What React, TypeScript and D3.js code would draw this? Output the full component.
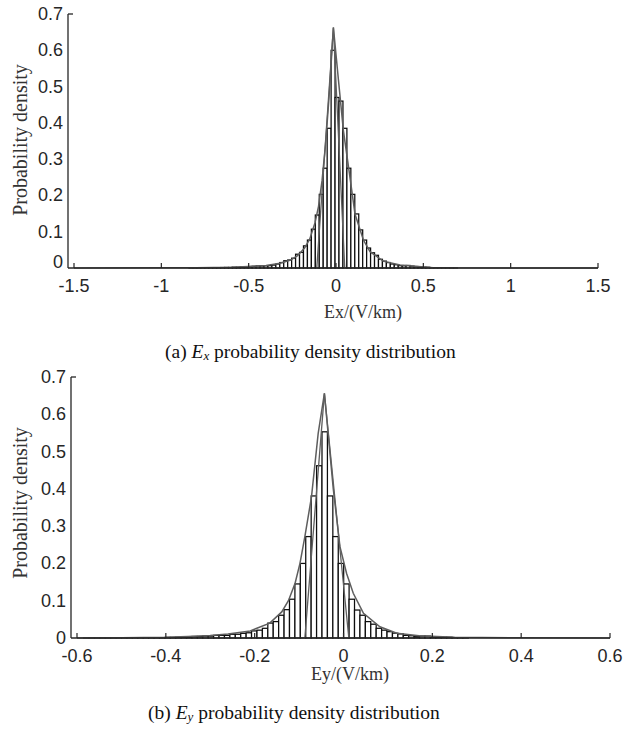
import React from 'react';
import * as d3 from 'd3';

// ---------- data ----------
const yTicks = [0, 0.1, 0.2, 0.3, 0.4, 0.5, 0.6, 0.7];
const exTicks = [-1.5, -1, -0.5, 0, 0.5, 1, 1.5];
const eyTicks = [-0.6, -0.4, -0.2, 0, 0.2, 0.4, 0.6];

// Ex histogram (probability density per bin)
const exBinStart = -0.8416;
const exBinWidth = 0.0226;
const exDensity = [
  0.0005, 0.0005, 0.0005, 0.0008, 0.0008, 0.001, 0.001, 0.001, 0.0012, 0.0015,
  0.0015, 0.002, 0.002, 0.003, 0.0036, 0.004, 0.0045, 0.0055, 0.0055, 0.006,
  0.0065, 0.008, 0.011, 0.015, 0.02, 0.022, 0.027, 0.038, 0.043, 0.061,
  0.077, 0.107, 0.146, 0.203, 0.275, 0.385,
  0.6,
  0.47, 0.46, 0.385, 0.275, 0.203, 0.149, 0.105, 0.077, 0.055, 0.042,
  0.035, 0.024, 0.019, 0.015, 0.011, 0.009, 0.0065, 0.006, 0.007, 0.005,
  0.004, 0.003, 0.002, 0.002, 0.001, 0.001, 0.001, 0.0008, 0.0008, 0.0005, 0.0005,
];
const exFit: [number, number][] = [
  [-1.5, 0.0001], [-1.0, 0.0004], [-0.8, 0.0008], [-0.6, 0.002], [-0.5, 0.004],
  [-0.4, 0.007], [-0.32, 0.013], [-0.26, 0.022], [-0.22, 0.034], [-0.18, 0.055],
  [-0.15, 0.08], [-0.12, 0.125], [-0.1, 0.17], [-0.08, 0.24], [-0.06, 0.34],
  [-0.04, 0.47], [-0.015, 0.663], [0.014, 0.518], [0.042, 0.38], [0.077, 0.26],
  [0.109, 0.148], [0.157, 0.077], [0.195, 0.045], [0.27, 0.019], [0.367, 0.008],
  [0.556, 0.001], [1.0, 0.0002], [1.5, 0.0001],
];
const exSpike: [number, number][] = [[-0.11, 0], [-0.015, 0.663], [0.05, 0]];

// Ey histogram
const eyBinStart = -0.5852;
const eyBinWidth = 0.0122;
const eyDensity = [
  0.0002, 0.0002, 0.0003, 0.0003, 0.0003, 0.0004, 0.0004, 0.0005, 0.0005, 0.0005,
  0.0008, 0.0008, 0.001, 0.001, 0.001, 0.0015, 0.0015, 0.002, 0.002, 0.003,
  0.004, 0.004, 0.005, 0.005, 0.007, 0.007, 0.007, 0.01, 0.01, 0.0125,
  0.014, 0.019, 0.021, 0.026, 0.04, 0.044, 0.061, 0.076, 0.104, 0.145,
  0.2, 0.272, 0.381, 0.462,
  0.553,
  0.381, 0.272, 0.2, 0.145, 0.104, 0.075, 0.061, 0.044, 0.037, 0.026,
  0.021, 0.017, 0.013, 0.011, 0.007, 0.006, 0.0035, 0.005, 0.005, 0.0035,
  0.003, 0.002, 0.002, 0.001, 0.001, 0.0005,
];
const eyFit: [number, number][] = [
  [-0.6, 0.0002], [-0.5, 0.0007], [-0.4, 0.002], [-0.35, 0.004], [-0.3, 0.007],
  [-0.26, 0.011], [-0.21, 0.019], [-0.166, 0.04], [-0.139, 0.07], [-0.124, 0.1],
  [-0.109, 0.147], [-0.098, 0.2], [-0.087, 0.272], [-0.072, 0.379], [-0.057, 0.549],
  [-0.043, 0.656], [-0.023, 0.4], [-0.008, 0.245], [0.007, 0.173], [0.022, 0.12],
  [0.045, 0.066], [0.082, 0.03], [0.12, 0.013], [0.17, 0.006], [0.25, 0.002],
  [0.4, 0.0005], [0.6, 0.0001],
];
const eySpike: [number, number][] = [[-0.087, 0], [-0.043, 0.656], [0.012, 0]];

// ---------- drawing ----------
const AXIS = '#262626';
const SANS = '"Liberation Sans", Arial, sans-serif';
const SERIF = '"Liberation Serif", "Times New Roman", serif';

type PanelProps = {
  xDomain: [number, number];
  xRange: [number, number];
  yRange: [number, number];
  axisStartX: number;
  xTicks: number[];
  binStart: number;
  binWidth: number;
  density: number[];
  fit: [number, number][];
  spike: [number, number][];
  xLabel: string;
  xLabelPos: [number, number];
  yLabelPos: [number, number];
  tickLabelY: number;
  zeroLabelShift: number;
};

function Panel(p: PanelProps) {
  const x = d3.scaleLinear().domain(p.xDomain).range(p.xRange);
  const y = d3.scaleLinear().domain([0, 0.7]).range(p.yRange);
  const base = y(0);
  const line = d3
    .line<[number, number]>()
    .x((d) => x(d[0]))
    .y((d) => y(d[1]));
  return (
    <g>
      {p.density.map((v, i) => {
        const x0 = x(p.binStart + i * p.binWidth);
        const x1 = x(p.binStart + (i + 1) * p.binWidth);
        return (
          <rect
            key={i}
            x={x0}
            y={y(v)}
            width={x1 - x0}
            height={base - y(v)}
            fill="#fff"
            stroke="#0d0d0d"
            strokeWidth={1.25}
          />
        );
      })}
      <path d={line(p.fit) || ''} fill="none" stroke="#5e5e5e" strokeWidth={1.5} />
      <path d={line(p.spike) || ''} fill="none" stroke="#5e5e5e" strokeWidth={1.3} />
      <line x1={p.axisStartX} x2={p.xRange[1]} y1={base} y2={base} stroke={AXIS} strokeWidth={1.3} />
      <line x1={p.axisStartX} x2={p.axisStartX} y1={base} y2={y(0.7)} stroke={AXIS} strokeWidth={1.3} />
      <line x1={p.axisStartX} x2={p.axisStartX + 5} y1={y(0.7)} y2={y(0.7)} stroke={AXIS} strokeWidth={1.3} />
      {p.xTicks.map((t) => (
        <g key={t}>
          <line x1={x(t)} x2={x(t)} y1={base} y2={base - 5} stroke={AXIS} strokeWidth={1.2} />
          <text
            x={x(t)}
            y={p.tickLabelY}
            textAnchor="middle"
            dominantBaseline="central"
            fontFamily={SANS}
            fontSize={18}
            fill={AXIS}
          >
            {String(t)}
          </text>
        </g>
      ))}
      {yTicks.map((t) => (
        <text
          key={t}
          x={p.axisStartX - 5}
          y={y(t) + (t === 0 ? p.zeroLabelShift : 0)}
          textAnchor="end"
          dominantBaseline="central"
          fontFamily={SANS}
          fontSize={18}
          fill={AXIS}
        >
          {String(t)}
        </text>
      ))}
      <text
        x={p.xLabelPos[0]}
        y={p.xLabelPos[1]}
        textAnchor="middle"
        dominantBaseline="central"
        fontFamily={SERIF}
        fontSize={18}
        fill="#333"
      >
        {p.xLabel}
      </text>
      <text
        transform={`translate(${p.yLabelPos[0]},${p.yLabelPos[1]}) rotate(-90)`}
        textAnchor="middle"
        dominantBaseline="central"
        fontFamily={SERIF}
        fontSize={20}
        fill="#333"
      >
        Probability density
      </text>
    </g>
  );
}

function Caption({ x, y, tag, sub }: { x: number; y: number; tag: string; sub: string }) {
  return (
    <text x={x} y={y} fontFamily={SERIF} fontSize={19.5} fill="#111" dominantBaseline="central">
      {tag}{' '}
      <tspan fontStyle="italic">E</tspan>
      <tspan fontStyle="italic" fontSize={13} dy={4}>
        {sub}
      </tspan>
      <tspan dy={-4}> probability density distribution</tspan>
    </text>
  );
}

export default function App() {
  return (
    <svg
      width={627}
      height={730}
      style={{ position: 'absolute', left: 0, top: 0, background: '#fff' }}
    >
      <rect width={627} height={730} fill="#fff" />
      <Panel
        xDomain={[-1.5, 1.5]}
        xRange={[74, 598]}
        yRange={[268, 14]}
        axisStartX={68}
        xTicks={exTicks}
        binStart={exBinStart}
        binWidth={exBinWidth}
        density={exDensity}
        fit={exFit}
        spike={exSpike}
        xLabel="Ex/(V/km)"
        xLabelPos={[363, 312]}
        yLabelPos={[20, 140]}
        tickLabelY={285.5}
        zeroLabelShift={-6}
      />
      <Caption x={165} y={351} tag="(a)" sub="x" />
      <Panel
        xDomain={[-0.6, 0.6]}
        xRange={[77, 610]}
        yRange={[638, 377]}
        axisStartX={71}
        xTicks={eyTicks}
        binStart={eyBinStart}
        binWidth={eyBinWidth}
        density={eyDensity}
        fit={eyFit}
        spike={eySpike}
        xLabel="Ey/(V/km)"
        xLabelPos={[350, 674]}
        yLabelPos={[20, 503]}
        tickLabelY={655.5}
        zeroLabelShift={0}
      />
      <Caption x={148} y={712} tag="(b)" sub="y" />
    </svg>
  );
}
